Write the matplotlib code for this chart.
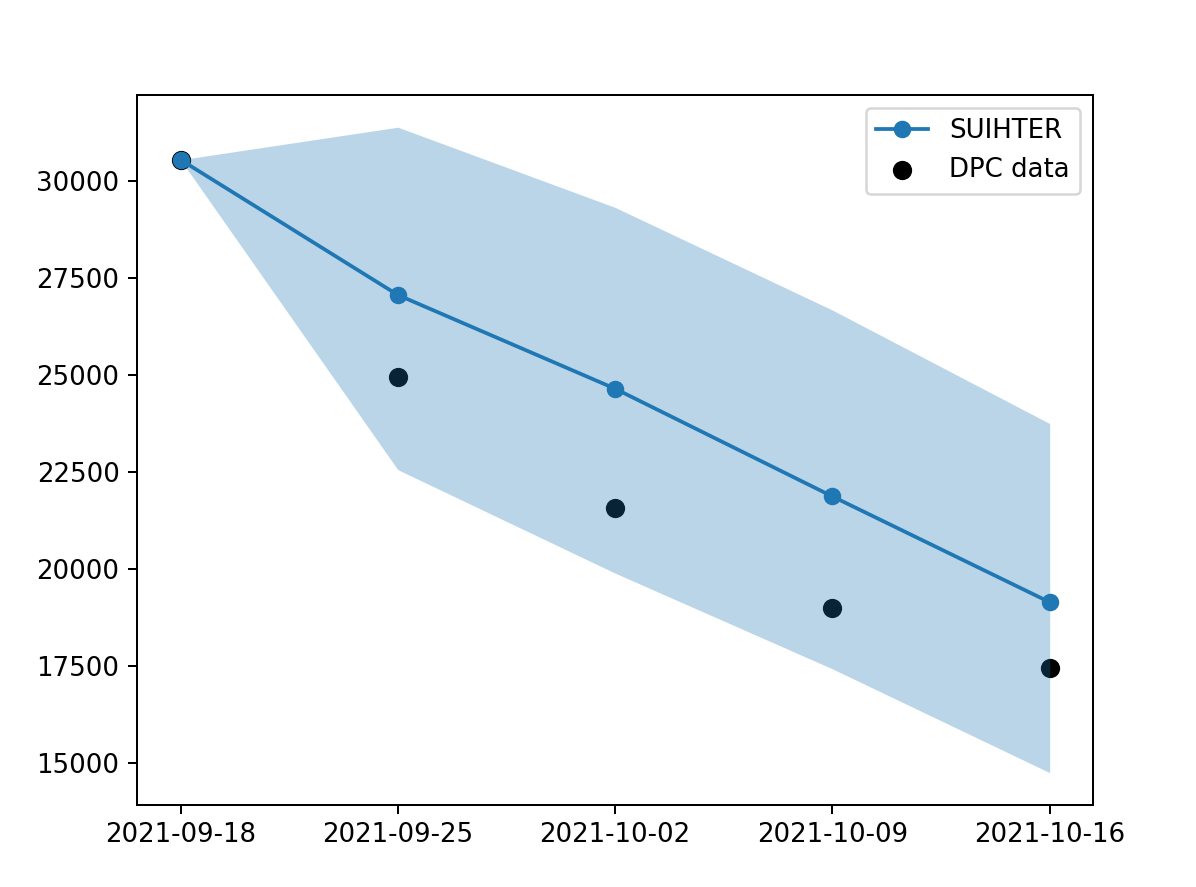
import matplotlib
matplotlib.use('Agg')
import matplotlib.pyplot as plt
import numpy as np
import datetime as dt

dates = ['2021-09-18', '2021-09-25', '2021-10-02', '2021-10-09', '2021-10-16']
suihter = [30560, 27070, 24650, 21870, 19140]
dpc = [30560, 24960, 21560, 18990, 17445]
band_low = [30560, 22560, 19890, 17420, 14740]
band_high = [30560, 31400, 29330, 26680, 23750]

t = [dt.datetime.strptime(d, '%Y-%m-%d') for d in dates]

plt.rcParams['font.size'] = 10.4
fig = plt.figure(figsize=(1196/180, 887/180), dpi=180)
ax = fig.add_subplot(111)
fig.subplots_adjust(left=0.1146, right=0.914, top=0.893, bottom=0.0925)

sc = ax.scatter(t, dpc, color='k', s=45, label='DPC data')
ax.fill_between(t, band_low, band_high, color='C0', alpha=0.3, linewidth=0)
ln, = ax.plot(t, suihter, 'C0o-', label='SUIHTER')
ax.set_xticks(t)
ax.set_xticklabels(dates)
ax.legend(handles=[ln, sc], loc='upper right')
plt.savefig('out.png', dpi=180)
